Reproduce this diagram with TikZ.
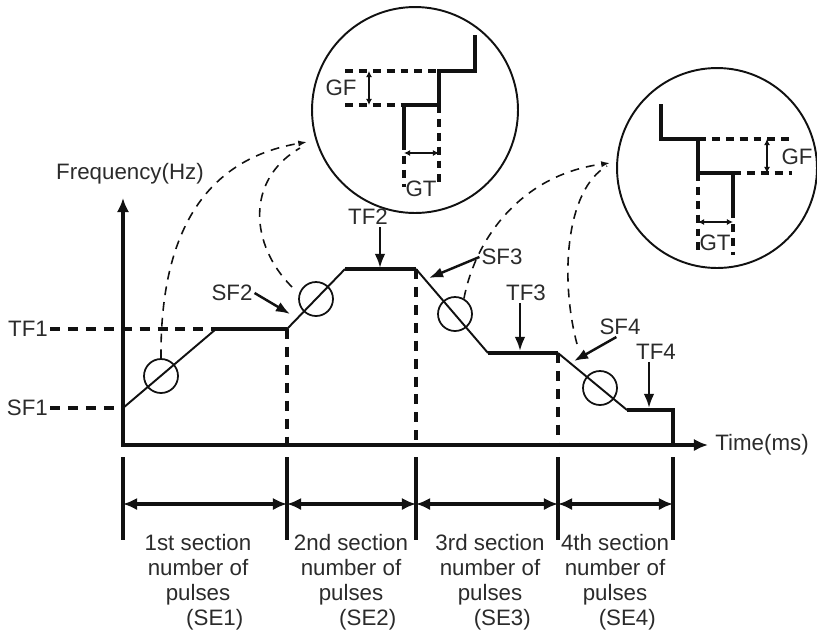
\documentclass[tikz,border=0pt]{standalone}
\usepackage{fontspec}
\setmainfont{Liberation Sans}
\usepackage{xcolor}
\usepackage{tikz}
\usetikzlibrary{arrows.meta, positioning}
\definecolor{ink}{HTML}{111111}
\definecolor{txt}{HTML}{2b2b2b}

\begin{document}
\begin{tikzpicture}[x=0.02cm, y=-0.02cm, >=Latex,
    font=\fontsize{12.7}{14.3}\selectfont]
  \tikzstyle{lbl}=[text=txt, inner sep=1pt]
  \tikzstyle{axis}=[{Latex[length=8pt,width=7pt]}-{Latex[length=8pt,width=7pt]},
                    line width=2pt, color=ink, line join=miter]
  \tikzstyle{lvl}=[line width=2pt, color=ink, dash pattern=on 5.7pt off 4.5pt]
  \tikzstyle{flat}=[line width=2pt, color=ink, line join=miter]
  \tikzstyle{slope}=[line width=1.1pt, color=ink]
  \tikzstyle{ring}=[circle, draw=ink, line width=1pt, minimum size=0.68cm, inner sep=0pt]
  \tikzstyle{lens}=[circle, draw=ink, line width=1.1pt, inner sep=0pt]
  \tikzstyle{link}=[line width=0.9pt, color=ink, dash pattern=on 5pt off 4pt]
  \tikzstyle{callout}=[-{Latex[length=8pt,width=6pt]}, line width=1.4pt, color=ink]
  \tikzstyle{stair}=[line width=2.2pt, color=ink, line join=miter]
  \tikzstyle{guide}=[line width=2pt, color=ink, dash pattern=on 4.5pt off 3.4pt]
  \tikzstyle{gap}=[{Latex[length=3.5pt,width=3.5pt]}-{Latex[length=3.5pt,width=3.5pt]},
                   line width=1.3pt, color=ink]
  \tikzstyle{sep}=[line width=2pt, color=ink]
  \tikzstyle{span}=[{Latex[length=8pt,width=7pt]}-{Latex[length=8pt,width=7pt]},
                    line width=2pt, color=ink]
  \tikzstyle{sec}=[lbl, align=center]

  \useasboundingbox (0,0) rectangle (817,630);

  % axes
  \coordinate (O) at (123,445);
  \coordinate (ytop) at (123,198);
  \coordinate (xend) at (708,445);
  \draw[axis] (ytop) -- (O) -- (xend);
  \node[lbl] (freq) at (130,174) {Frequency(Hz)};
  \node[lbl, right=3pt of xend] (time) {Time(ms)};

  % frequency profile
  \coordinate (p0) at (123,408);
  \coordinate (p1) at (216,329);
  \coordinate (p2) at (287,329);
  \coordinate (p3) at (345,269);
  \coordinate (p4) at (416,269);
  \coordinate (p5) at (488,353);
  \coordinate (p6) at (558,353);
  \coordinate (p7) at (627,410);
  \coordinate (p8) at (673,410);
  \draw[slope] (p0) -- (p1);
  \draw[flat]  (p1) -- (p2);
  \draw[slope] (p2) -- (p3);
  \draw[flat]  (p3) -- (p4);
  \draw[slope] (p4) -- (p5);
  \draw[flat]  (p5) -- (p6);
  \draw[slope] (p6) -- (p7);
  \draw[flat]  (p7) -- (p8) -- (p8 |- O);

  % levels
  \node[lbl, anchor=east] (sf1) at (50,408) {SF1};
  \node[lbl, anchor=east] (tf1) at (50,329) {TF1};
  \draw[lvl] (sf1) -- (p0);
  \draw[lvl] (tf1) -- (p1);
  \draw[lvl] (p2) -- (p2 |- O);
  \draw[lvl] (p4) -- (p4 |- O);
  \draw[lvl] (p6) -- (p6 |- O);

  % marked spots
  \node[ring] (r1) at (161,376) {};
  \node[ring] (r2) at (316,299) {};
  \node[ring] (r3) at (455,314) {};
  \node[ring] (r4) at (600,388) {};

  % magnified views
  \node[lens, minimum size=4.12cm] (z1) at (415,110) {};
  \node[lens, minimum size=4cm] (z2) at (717,168) {};

  \draw[guide] (345,71) -- (439,71);
  \draw[guide] (345,105) -- (404,105);
  \draw[guide] (404,142) -- (404,187);
  \draw[guide] (439,105) -- (439,187);
  \draw[stair] (475,35) -- (475,71) -- (439,71) -- (439,105) -- (404,105) -- (404,142);
  \draw[gap] (369,71) -- (369,105);
  \node[lbl] (gf1) at (341,88) {GF};
  \draw[gap] (404,153) -- (439,153);
  \node[lbl] (gt1) at (421,189) {GT};

  \draw[guide] (698,139) -- (792,139);
  \draw[guide] (733,173) -- (792,173);
  \draw[guide] (698,173) -- (698,255);
  \draw[guide] (733,210) -- (733,255);
  \draw[stair] (661,104) -- (661,139) -- (698,139) -- (698,173) -- (733,173) -- (733,210);
  \draw[gap] (767,139) -- (767,173);
  \node[lbl] (gf2) at (797,157) {GF};
  \draw[gap] (698,222) -- (733,222);
  \node[lbl] (gt2) at (715,243) {GT};

  % dashed links
  \coordinate (z1in) at (307,142);
  \coordinate (z1end) at (300,148);
  \coordinate (r2out) at (292,287);
  \coordinate (z2in) at (610,163);
  \coordinate (z2end) at (607,166);
  \coordinate (r4out) at (577,344);
  \draw[link, -{Latex[length=5pt,width=3.5pt]}] (r1.north) .. controls (160,240) and (200,160) .. (z1in);
  \draw[link] (r2out) .. controls (250,245) and (245,180) .. (z1end);
  \draw[link, -{Latex[length=5pt,width=3.5pt]}] (r3.60) .. controls (475,240) and (520,175) .. (z2in);
  \draw[link] (r4out) .. controls (560,280) and (565,190) .. (z2end);

  % callouts
  \node[lbl] (sf2) at (232,293) {SF2};
  \coordinate (sf2pt) at (290,314);
  \draw[callout] (sf2.east) -- (sf2pt);
  \node[lbl] (tf2) at (368,217) {TF2};
  \coordinate (tf2pt) at (380,268);
  \draw[callout] (tf2pt |- tf2.south) -- (tf2pt);
  \node[lbl] (sf3) at (502,257) {SF3};
  \coordinate (sf3pt) at (429,278);
  \draw[callout] (sf3.west) -- (sf3pt);
  \node[lbl] (tf3) at (526,293) {TF3};
  \coordinate (tf3pt) at (520,351);
  \draw[callout] (tf3pt |- tf3.south) -- (tf3pt);
  \node[lbl] (sf4) at (620,327) {SF4};
  \coordinate (sf4pt) at (574,361);
  \draw[callout] (sf4.250) -- (sf4pt);
  \node[lbl] (tf4) at (656,352) {TF4};
  \coordinate (tf4pt) at (649,408);
  \draw[callout] (tf4pt |- tf4.south) -- (tf4pt);

  % sections
  \draw[sep] (123,457) -- (123,540);
  \draw[sep] (287,457) -- (287,540);
  \draw[sep] (416,457) -- (416,540);
  \draw[sep] (558,457) -- (558,540);
  \draw[sep] (673,457) -- (673,540);
  \coordinate (b0) at (123,504);
  \coordinate (b1) at (287,504);
  \coordinate (b2) at (416,504);
  \coordinate (b3) at (558,504);
  \coordinate (b4) at (673,504);
  \draw[span] (b0) -- (b1);
  \draw[span] (b1) -- (b2);
  \draw[span] (b2) -- (b3);
  \draw[span] (b3) -- (b4);
  \node[sec] (se1) at (198,582) {1st section\\number of\\pulses\\\hspace*{1.5em}(SE1)};
  \node[sec] (se2) at (351,582) {2nd section\\number of\\pulses\\\hspace*{1.5em}(SE2)};
  \node[sec] (se3) at (490,582) {3rd section\\number of\\pulses\\\hspace*{1.1em}(SE3)};
  \node[sec] (se4) at (615,582) {4th section\\number of\\pulses\\\hspace*{1.1em}(SE4)};
\end{tikzpicture}
\end{document}
